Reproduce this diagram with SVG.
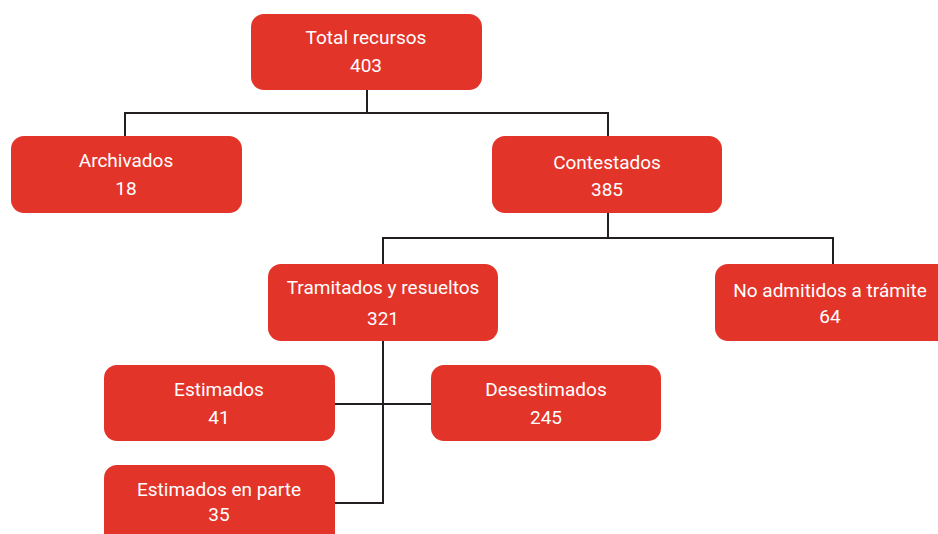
<svg xmlns="http://www.w3.org/2000/svg" width="938" height="534" viewBox="0 0 938 534">
<style>
.box{fill:#e33429;}
.t{font-family:Roboto,"Liberation Sans",sans-serif;font-size:19px;fill:#fff;text-anchor:middle;}
.c{fill:none;stroke:#231f20;stroke-width:2;}
</style>
<rect width="938" height="534" fill="#fff"/>
<g id="connectors">
<path class="c" d="M367 90V113M125 136V113H608V136"/>
<path class="c" d="M608 213V238M383 264V238H833V264"/>
<path class="c" d="M383 341V503H335M335 404H431"/>
</g>
<g id="total"><rect class="box" x="251" y="14" width="231" height="76" rx="13"/><text class="t" x="366" y="44">Total recursos</text><text class="t" x="366" y="72">403</text></g>
<g id="archivados"><rect class="box" x="11" y="136" width="231" height="77" rx="13"/><text class="t" x="126" y="167">Archivados</text><text class="t" x="126" y="195">18</text></g>
<g id="contestados"><rect class="box" x="492" y="136" width="230" height="77" rx="13"/><text class="t" x="607" y="169">Contestados</text><text class="t" x="607" y="196">385</text></g>
<g id="tramitados"><rect class="box" x="268" y="264" width="230" height="77" rx="13"/><text class="t" x="383" y="294">Tramitados y resueltos</text><text class="t" x="383" y="325">321</text></g>
<g id="noadmitidos"><rect class="box" x="715" y="264" width="235" height="77" rx="13"/><text class="t" x="830" y="297">No admitidos a trámite</text><text class="t" x="830" y="323">64</text></g>
<g id="estimados"><rect class="box" x="104" y="365" width="231" height="76" rx="13"/><text class="t" x="219" y="396">Estimados</text><text class="t" x="219" y="424">41</text></g>
<g id="desestimados"><rect class="box" x="431" y="365" width="230" height="76" rx="13"/><text class="t" x="546" y="396">Desestimados</text><text class="t" x="546" y="424">245</text></g>
<g id="parte"><rect class="box" x="104" y="465" width="231" height="90" rx="13"/><text class="t" x="219" y="496">Estimados en parte</text><text class="t" x="219" y="521">35</text></g>
</svg>
